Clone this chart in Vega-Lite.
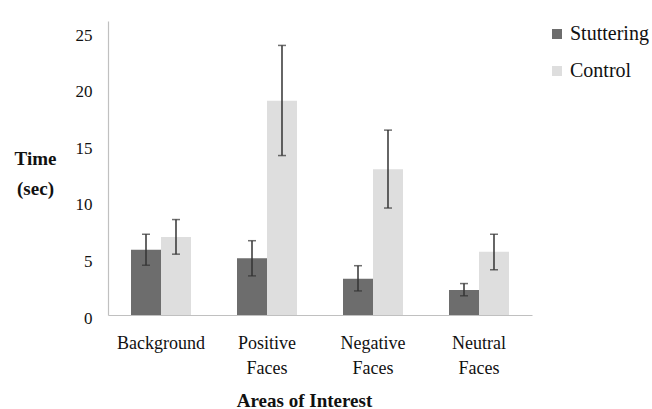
{
  "$schema": "https://vega.github.io/schema/vega-lite/v6.json",
  "autosize": {"type": "none"},
  "padding": {"left": 108, "top": 21, "right": 120, "bottom": 94},
  "width": 424,
  "height": 294,
  "background": "white",
  "config": {
    "view": {"stroke": null},
    "font": "Liberation Serif, Times New Roman, serif",
    "axis": {"grid": false, "ticks": false, "domainColor": "#c0c0c0", "domainWidth": 1.2, "labelColor": "#111", "titleColor": "#111", "labelFont": "Liberation Serif, Times New Roman, serif", "titleFont": "Liberation Serif, Times New Roman, serif"},
    "legend": {"labelFont": "Liberation Serif, Times New Roman, serif"}
  },
  "data": {
    "values": [
      {"area": "Background", "group": "Stuttering", "value": 5.76, "lo": 4.4, "hi": 7.14},
      {"area": "Background", "group": "Control", "value": 6.89, "lo": 5.38, "hi": 8.44},
      {"area": "Positive Faces", "group": "Stuttering", "value": 5.02, "lo": 3.46, "hi": 6.57},
      {"area": "Positive Faces", "group": "Control", "value": 18.94, "lo": 14.1, "hi": 23.84},
      {"area": "Negative Faces", "group": "Stuttering", "value": 3.2, "lo": 2.13, "hi": 4.36},
      {"area": "Negative Faces", "group": "Control", "value": 12.9, "lo": 9.46, "hi": 16.35},
      {"area": "Neutral Faces", "group": "Stuttering", "value": 2.21, "lo": 1.7, "hi": 2.78},
      {"area": "Neutral Faces", "group": "Control", "value": 5.59, "lo": 4.0, "hi": 7.14}
    ]
  },
  "encoding": {
    "x": {
      "field": "area", "type": "nominal", "sort": null,
      "scale": {"paddingInner": 0.434, "paddingOuter": 0.217},
      "axis": {
        "title": "Areas of Interest", "titleFontSize": 19, "titleFontWeight": "bold",
        "titleX": 196, "titleY": 85, "titleBaseline": "middle",
        "labelAngle": 0, "labelFontSize": 18, "labelPadding": 19, "labelBaseline": "top",
        "labelLineHeight": 25, "labelExpr": "split(datum.label, ' ')"
      }
    },
    "xOffset": {"field": "group", "type": "nominal", "sort": ["Stuttering", "Control"], "scale": {"paddingInner": 0, "paddingOuter": 0}}
  },
  "layer": [
    {
      "mark": {"type": "bar"},
      "encoding": {
        "y": {
          "field": "value", "type": "quantitative",
          "scale": {"domain": [0, 25]},
          "axis": {
            "values": [0, 5, 10, 15, 20, 25],
            "title": ["Time", "(sec)"], "titleAngle": 0, "titleFontSize": 19, "titleFontWeight": "bold",
            "titleX": -73, "titleY": 128, "titleAlign": "center", "titleBaseline": "top", "titleLineHeight": 30,
            "labelFontSize": 17, "labelPadding": 16, "labelOffset": 3
          }
        },
        "color": {
          "field": "group", "type": "nominal",
          "scale": {"domain": ["Stuttering", "Control"], "range": ["#6d6d6d", "#dedede"]},
          "legend": {
            "title": null, "orient": "none", "legendX": 439, "legendY": 3,
            "symbolType": "square", "symbolSize": 100, "symbolStrokeWidth": 0,
            "labelFontSize": 20, "labelColor": "#111",
            "labelOffset": 3, "rowPadding": 17
          }
        }
      }
    },
    {
      "mark": {"type": "rule", "color": "#333", "strokeWidth": 1.5},
      "encoding": {
        "y": {"field": "lo", "type": "quantitative"},
        "y2": {"field": "hi"}
      }
    },
    {
      "mark": {"type": "tick", "color": "#333", "thickness": 1.5, "size": 8},
      "encoding": {"y": {"field": "lo", "type": "quantitative"}}
    },
    {
      "mark": {"type": "tick", "color": "#333", "thickness": 1.5, "size": 8},
      "encoding": {"y": {"field": "hi", "type": "quantitative"}}
    }
  ]
}
